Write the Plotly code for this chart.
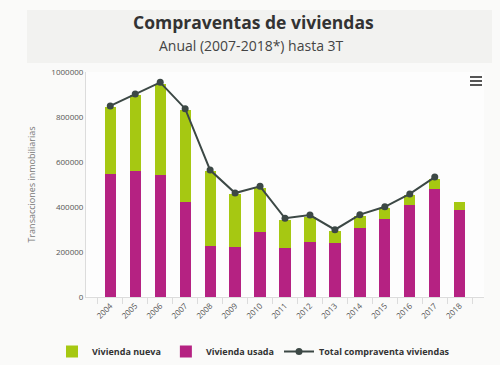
import plotly.graph_objects as go

years = ["2004", "2005", "2006", "2007", "2008", "2009", "2010", "2011",
         "2012", "2013", "2014", "2015", "2016", "2017", "2018"]
usada = [547000, 560000, 542000, 421000, 227000, 221000, 287000, 216000,
         244000, 240000, 308000, 348000, 409000, 479000, 387000]
nueva = [296000, 338000, 405000, 410000, 333000, 237000, 196000, 126000,
         110000, 53000, 52000, 46000, 43000, 45000, 37000]
total = [849000, 902000, 954000, 837000, 564000, 462000, 492000, 350000,
         364000, 299000, 366000, 401000, 458000, 533000, None]

GREEN = "#a6c812"
MAGENTA = "#b52282"
LINE = "#3c4845"
FONT = "Open Sans"

L, T, W, H = 86, 72, 398, 225


def px(x):
    return (x - L) / W


def py(y):
    return (T + H - y) / H


fig = go.Figure()
fig.add_trace(go.Bar(x=years, y=usada, name="Vivienda usada", marker_color=MAGENTA,
                     marker_line_width=0, legendrank=2))
fig.add_trace(go.Bar(x=years, y=nueva, name="Vivienda nueva", marker_color=GREEN,
                     marker_line_width=0, legendrank=1))
fig.add_trace(go.Scatter(x=years, y=total, name="Total compraventa viviendas",
                         mode="lines+markers", line=dict(color=LINE, width=2),
                         marker=dict(color=LINE, size=7), legendrank=3))

fig.update_layout(
    width=500, height=365,
    barmode="stack", bargap=0.55,
    paper_bgcolor="#fafaf9", plot_bgcolor="#fdfdfd",
    margin=dict(l=L, r=500 - L - W, t=T, b=365 - T - H, autoexpand=False),
    font=dict(family=FONT, color="#555"),
    showlegend=True,
    legend=dict(orientation="h", x=px(52), xanchor="left", y=py(337), yanchor="top",
                font=dict(size=9, color="#333", family=FONT, weight="bold"),
                traceorder="normal", itemwidth=30, bgcolor="rgba(0,0,0,0)"),
    xaxis=dict(type="category", tickangle=-45, tickfont=dict(size=8, color="#555"),
               showline=True, linecolor="#dcdcdc", linewidth=1,
               ticks="outside", ticklen=6, tickcolor="#dcdcdc", tickson="boundaries",
               showgrid=False, fixedrange=True),
    yaxis=dict(range=[0, 1000000], tickvals=[0, 200000, 400000, 600000, 800000, 1000000],
               ticktext=["0", "200000", "400000", "600000", "800000", "1000000"],
               tickfont=dict(size=8, color="#555"), showgrid=False,
               showline=True, linecolor="#dcdcdc", linewidth=1,
               title=dict(text="Transacciones inmobiliarias", font=dict(size=9, color="#777"),
                          standoff=14),
               fixedrange=True),
    shapes=[
        dict(type="rect", xref="paper", yref="paper",
             x0=px(27), x1=px(492), y0=py(63), y1=py(10),
             fillcolor="#f2f2f0", line_width=0, layer="below"),
    ] + [
        dict(type="line", xref="paper", yref="paper",
             x0=px(470), x1=px(482), y0=py(yy), y1=py(yy),
             line=dict(color="#555", width=2))
        for yy in (77, 81, 85)
    ],
    annotations=[
        dict(text="<b>Compraventas de viviendas</b>", xref="paper", yref="paper",
             x=px(253), y=py(22), xanchor="center", yanchor="middle",
             showarrow=False, font=dict(size=17.5, color="#333", family=FONT)),
        dict(text="Anual (2007-2018*) hasta 3T", xref="paper", yref="paper",
             x=px(251), y=py(46), xanchor="center", yanchor="middle",
             showarrow=False, font=dict(size=14, color="#444", family=FONT)),
    ],
)

fig.write_html("out.html", config={"displayModeBar": False},
               post_script="document.body.style.margin='0';")
